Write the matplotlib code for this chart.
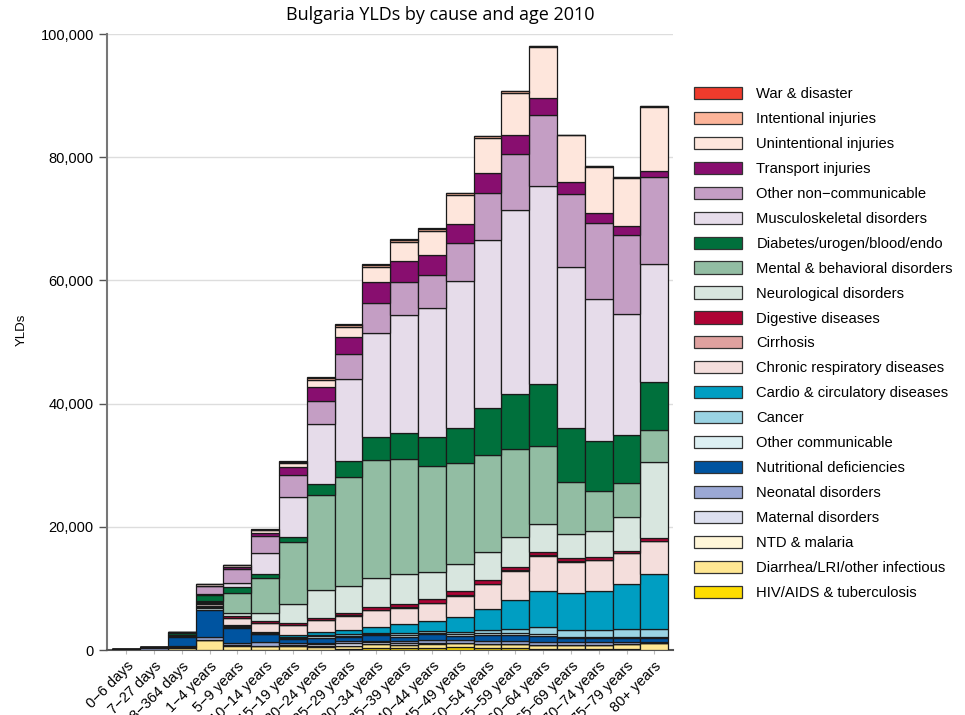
import numpy as np
import matplotlib
matplotlib.use("Agg")
import matplotlib.pyplot as plt
from matplotlib.patches import Patch

plt.rcParams['font.family'] = ['Liberation Sans', 'DejaVu Sans']

# age groups (x axis)
ages = ["0\u22126 days", "7\u221227 days", "28\u2212364 days", "1\u22124 years", "5\u22129 years",
        "10\u221214 years", "15\u221219 years", "20\u221224 years", "25\u221229 years", "30\u221234 years",
        "35\u221239 years", "40\u221244 years", "45\u221249 years", "50\u221254 years", "55\u221259 years",
        "60\u221264 years", "65\u221269 years", "70\u221274 years", "75\u221279 years", "80+ years"]

# YLDs in thousands, stacked bottom -> top
hiv = [0, 0, 0, 0, 0, 0, 0.02, 0.05, 0.1, 0.3, 0.3, 0.4, 0.55, 0.4, 0.3, 0.15, 0.15, 0.1, 0.1, 0.05]
diarrhea = [0.03, 0.06, 0.4, 1.6, 0.7, 0.65, 0.55, 0.5, 0.6, 0.6, 0.55, 0.65, 0.55, 0.55, 0.65, 0.7, 0.65, 0.75, 0.85, 1.1]
ntd = [0, 0, 0.02, 0.1, 0.1, 0.05, 0.03, 0.03, 0.03, 0.03, 0.03, 0.03, 0.03, 0.03, 0.03, 0.03, 0.03, 0.03, 0.03, 0.03]
maternal = [0, 0, 0, 0, 0, 0.02, 0.2, 0.35, 0.35, 0.3, 0.2, 0.1, 0.02, 0, 0, 0, 0, 0, 0, 0]
neonatal = [0.15, 0.3, 0.2, 0.35, 0.4, 0.5, 0.3, 0.2, 0.3, 0.3, 0.3, 0.4, 0.5, 0.5, 0.5, 0.45, 0.4, 0.35, 0.25, 0.1]
nutritional = [0.02, 0.05, 1.5, 4.5, 2.4, 1.3, 0.75, 0.8, 0.65, 0.85, 0.8, 1.0, 0.7, 1.0, 1.0, 1.0, 0.7, 0.65, 0.7, 0.7]
other_comm = [0, 0.01, 0.1, 0.25, 0.2, 0.15, 0.15, 0.3, 0.3, 0.2, 0.25, 0.2, 0.25, 0.25, 0.25, 0.25, 0.2, 0.2, 0.2, 0.15]
cancer = [0, 0, 0.02, 0.1, 0.1, 0.1, 0.1, 0.2, 0.25, 0.2, 0.3, 0.25, 0.3, 0.5, 0.65, 1.1, 1.15, 1.15, 1.25, 1.3]
cardio = [0, 0, 0.03, 0.2, 0.1, 0.1, 0.3, 0.55, 0.7, 0.97, 1.45, 1.6, 2.5, 3.4, 4.7, 5.95, 6.05, 6.4, 7.4, 8.9]
chronic_resp = [0, 0, 0.05, 0.3, 1.25, 1.5, 1.6, 1.85, 2.3, 2.7, 2.7, 3.0, 3.4, 4.05, 4.75, 5.7, 5.0, 4.9, 4.9, 5.4]
cirrhosis = [0, 0, 0, 0, 0, 0, 0.02, 0.03, 0.05, 0.05, 0.05, 0.08, 0.1, 0.1, 0.1, 0.1, 0.08, 0.07, 0.05, 0.03]
digestive = [0, 0, 0.03, 0.15, 0.25, 0.27, 0.4, 0.4, 0.4, 0.5, 0.5, 0.5, 0.6, 0.55, 0.55, 0.45, 0.47, 0.48, 0.4, 0.42]
neuro = [0.01, 0.02, 0.08, 0.2, 0.55, 1.35, 3.0, 4.5, 4.4, 4.7, 4.9, 4.5, 4.4, 4.5, 4.8, 4.6, 3.95, 4.3, 5.4, 12.4]
mental = [0, 0, 0, 0.25, 3.2, 5.7, 10.1, 15.4, 17.6, 19.2, 18.6, 17.2, 16.5, 15.9, 14.4, 12.6, 8.5, 6.5, 5.5, 5.1]
diabetes = [0, 0.01, 0.3, 1.0, 0.9, 0.7, 0.8, 1.8, 2.7, 3.7, 4.3, 4.7, 5.6, 7.5, 8.9, 10.1, 8.7, 8.1, 7.9, 7.85]
musculo = [0, 0, 0.02, 0.1, 0.7, 3.35, 6.5, 9.7, 13.3, 16.9, 19.2, 20.9, 23.9, 27.4, 29.8, 32.1, 26.2, 23.0, 19.6, 19.2]
other_ncd = [0, 0, 0.1, 1.25, 2.35, 2.7, 3.6, 3.8, 4.05, 4.9, 5.3, 5.4, 6.1, 7.5, 9.1, 11.5, 11.8, 12.3, 12.9, 14.0]
transport = [0, 0, 0, 0.1, 0.27, 0.54, 1.25, 2.3, 2.8, 3.4, 3.35, 3.25, 3.1, 3.25, 3.1, 2.9, 2.0, 1.7, 1.35, 1.1]
unintentional = [0.01, 0.01, 0.05, 0.2, 0.27, 0.43, 0.65, 1.1, 1.6, 2.3, 3.1, 3.9, 4.7, 5.7, 6.9, 8.2, 7.5, 7.4, 7.9, 10.4]
intentional = [0, 0, 0, 0.02, 0.05, 0.15, 0.25, 0.35, 0.35, 0.45, 0.45, 0.35, 0.35, 0.3, 0.22, 0.12, 0.12, 0.12, 0.12, 0.12]
war = [0, 0, 0, 0, 0, 0.03, 0.05, 0.08, 0.08, 0.1, 0.1, 0.08, 0.08, 0.08, 0.05, 0.03, 0.03, 0.03, 0.03, 0.03]

causes = ["HIV/AIDS & tuberculosis", "Diarrhea/LRI/other infectious", "NTD & malaria",
          "Maternal disorders", "Neonatal disorders", "Nutritional deficiencies",
          "Other communicable", "Cancer", "Cardio & circulatory diseases",
          "Chronic respiratory diseases", "Cirrhosis", "Digestive diseases",
          "Neurological disorders", "Mental & behavioral disorders",
          "Diabetes/urogen/blood/endo", "Musculoskeletal disorders",
          "Other non\u2212communicable", "Transport injuries", "Unintentional injuries",
          "Intentional injuries", "War & disaster"]
series = [hiv, diarrhea, ntd, maternal, neonatal, nutritional, other_comm, cancer, cardio,
          chronic_resp, cirrhosis, digestive, neuro, mental, diabetes, musculo, other_ncd,
          transport, unintentional, intentional, war]
colors = ["#FDDC00", "#FFE793", "#FFF6D8", "#DCDFEF", "#9BA8D4", "#0054A0",
          "#DCEFF2", "#9AD3E3", "#009EC2", "#F4DEDC", "#DFA19F", "#AE0335",
          "#D8E6DF", "#92BDA3", "#00703C", "#E6DCEA", "#C49EC4", "#880E6F",
          "#FEE6DC", "#FCB499", "#EF3B2C"]

fig = plt.figure(figsize=(9.65, 7.15), dpi=100)
ax = fig.add_axes([107 / 965, 65 / 715, 566 / 965, 616 / 715])

x = np.arange(len(ages))
bottom = np.zeros(len(ages))
for vals, col in zip(series, colors):
    v = np.array(vals) * 1000
    ax.bar(x, v, width=1.0, bottom=bottom, color=col, edgecolor="#1a1a1a", linewidth=0.9, zorder=3)
    bottom += v

ax.set_xlim(-0.69, 19.67)
ax.set_ylim(0, 100000)
ax.set_yticks(np.arange(0, 100001, 20000))
ax.set_yticklabels([f"{int(t):,}" for t in np.arange(0, 100001, 20000)], fontsize=10.5)
ax.yaxis.grid(True, color="#dddddd", linewidth=1, zorder=0)
ax.set_xticks(x)
ax.set_xticklabels(ages, rotation=45, ha="right", rotation_mode="anchor", fontsize=10.5)
ax.tick_params(axis="y", length=6, color="#555555", width=1)
ax.tick_params(axis="x", length=3, color="#bbbbbb")
for s in ["top", "right"]:
    ax.spines[s].set_visible(False)
ax.spines["left"].set_color("#777777")
ax.spines["left"].set_linewidth(1.5)
ax.spines["bottom"].set_color("#555555")
ax.spines["bottom"].set_linewidth(1.5)
ax.set_ylabel("YLDs", fontsize=9.5)
ax.yaxis.set_label_coords(-0.14, 0.52)

fig.text(440 / 965, 1 - 15 / 715, "Bulgaria YLDs by cause and age 2010", family="Open Sans",
         fontsize=13, ha="center", va="center")

handles = [Patch(facecolor=c, edgecolor="#333333", linewidth=0.9) for c in colors[::-1]]
fig.legend(handles, causes[::-1], loc="upper left", bbox_to_anchor=(688 / 965, 1 - 81 / 715),
           frameon=False, fontsize=10.6, handlelength=3.25, handleheight=0.9,
           handletextpad=1.0, labelspacing=0.73, borderaxespad=0)

fig.savefig("out.png", dpi=100)
